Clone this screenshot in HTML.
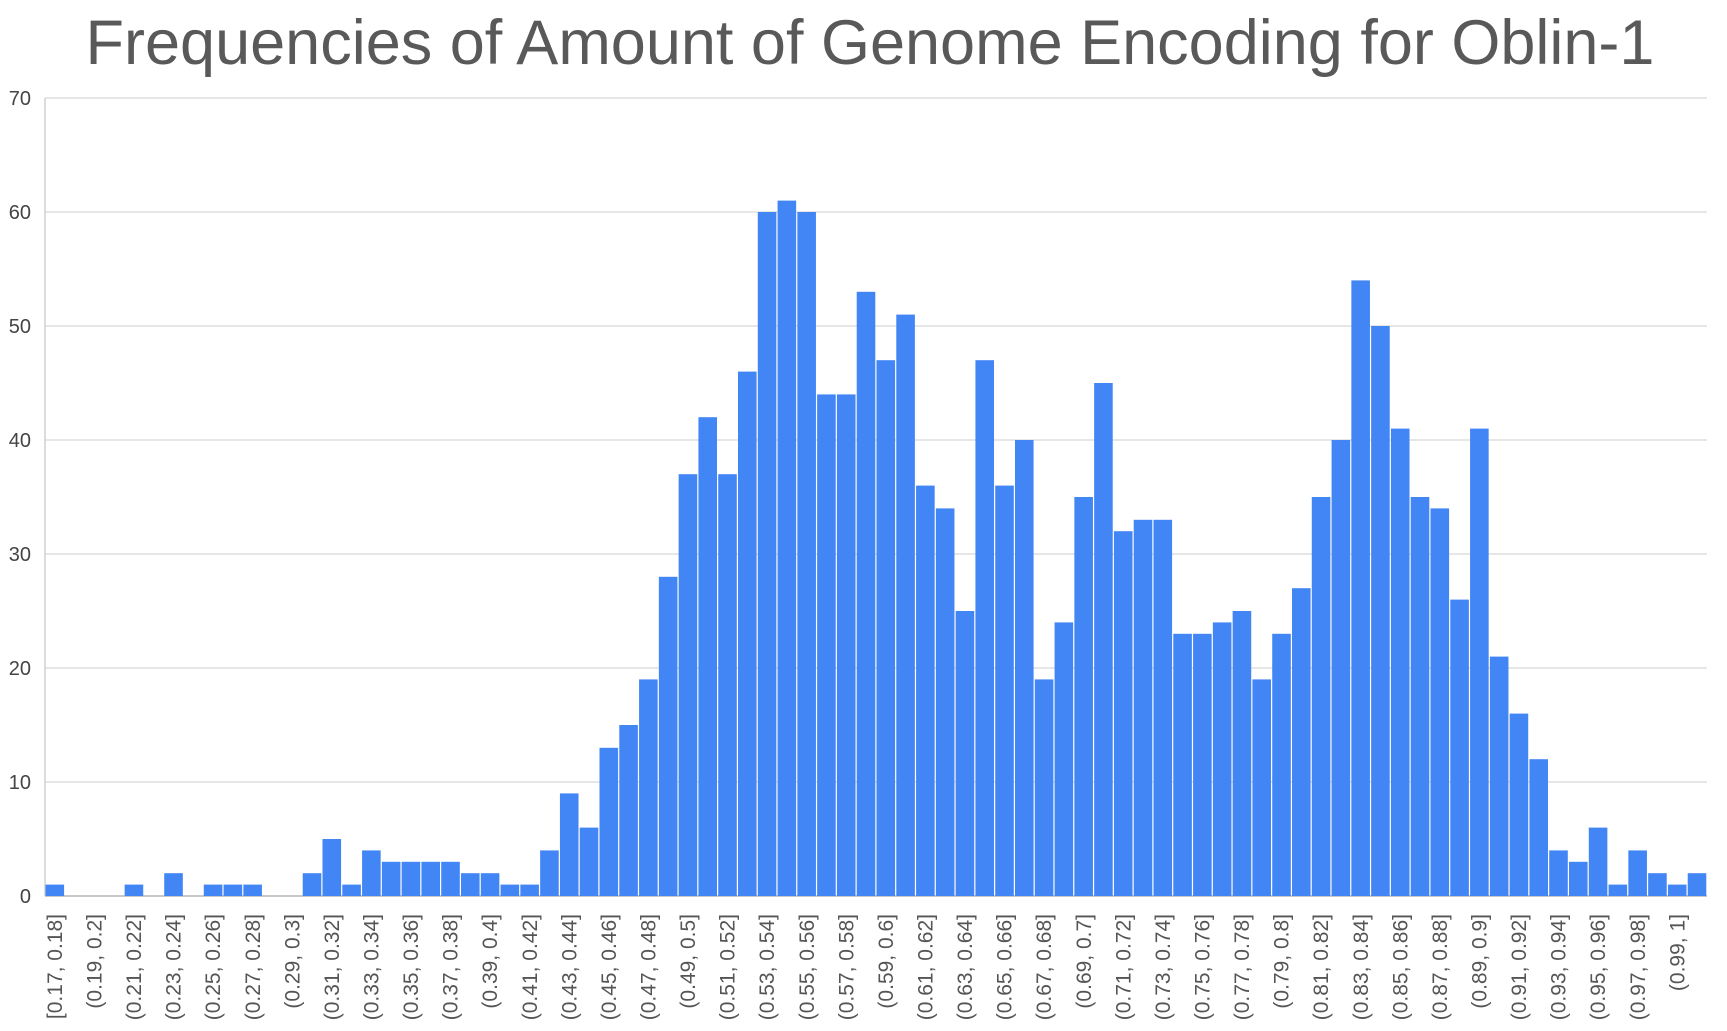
<!DOCTYPE html>
<html><head><meta charset="utf-8"><style>
body{margin:0;background:#fff;}
svg{display:block;font-family:"Liberation Sans",Arial,sans-serif;}
</style></head><body>
<svg id="chart" width="1727" height="1031">
<text x="870" y="64" text-anchor="middle" font-size="63" fill="#595959">Frequencies of Amount of Genome Encoding for Oblin-1</text>
<g id="grid"></g><g id="bars"></g><g id="xlabels"></g>
</svg>
<script>
const categories=[];
for(let i=0;i<84;i++){const a=(17+i)/100,b=(18+i)/100;categories.push((i===0?'[':'(')+(+a.toFixed(2))+', '+(+b.toFixed(2))+']');}
const values=[1,0,0,0,1,0,2,0,1,1,1,0,0,2,5,1,4,3,3,3,3,2,2,1,1,4,9,6,13,15,19,28,37,42,37,46,60,61,60,44,44,53,47,51,36,34,25,47,36,40,19,24,35,45,32,33,33,23,23,24,25,19,23,27,35,40,54,50,41,35,34,26,41,21,16,12,4,3,6,1,4,2,1,2];
const yTicks=[0,10,20,30,40,50,60,70];
const L=45,R=1707,T=98,B=896,yMax=70;
const bw=(R-L)/values.length;
const y=v=>B-(v/yMax)*(B-T);
const x=i=>L+i*bw;
const NS='http://www.w3.org/2000/svg';
const grid=document.getElementById('grid'),bars=document.getElementById('bars'),xl=document.getElementById('xlabels');
yTicks.forEach(t=>{
 const ln=document.createElementNS(NS,'line');
 ln.setAttribute('x1',L);ln.setAttribute('x2',R);ln.setAttribute('y1',y(t));ln.setAttribute('y2',y(t));
 ln.setAttribute('stroke',t===0?'#c8c8c8':'#dedede');ln.setAttribute('stroke-width',t===0?2:1.5);
 
 
 grid.appendChild(ln);
 const tx=document.createElementNS(NS,'text');
 tx.setAttribute('x',31);tx.setAttribute('y',y(t)+7);tx.setAttribute('text-anchor','end');
 tx.setAttribute('font-size','20');tx.setAttribute('fill','#444');tx.textContent=t;
 
 
 grid.appendChild(tx);
});
const ax=document.createElementNS(NS,'line');
ax.setAttribute('x1',L);ax.setAttribute('x2',L);ax.setAttribute('y1',T);ax.setAttribute('y2',B);ax.setAttribute('stroke','#d0d0d0');ax.setAttribute('stroke-width',1.5);


grid.appendChild(ax);
values.forEach((v,i)=>{
 if(v>0){
 const r=document.createElementNS(NS,'rect');
 r.setAttribute('x',x(i)+0.5);r.setAttribute('width',bw-1.2);r.setAttribute('y',y(v));r.setAttribute('height',B-y(v));
 r.setAttribute('fill','#4285f4');
 
 
 bars.appendChild(r);}
 if(i%2===0&&i<83){
 const cx=x(i)+bw/2+7,ty=914;
 const t=document.createElementNS(NS,'text');
 t.setAttribute('x',cx);t.setAttribute('y',ty);t.setAttribute('text-anchor','end');
 t.setAttribute('transform','rotate(-90 '+cx+' '+ty+')');
 t.setAttribute('font-size','21');t.setAttribute('fill','#555');t.textContent=categories[i];
 
 
 xl.appendChild(t);}
});
</script>
</body></html>
